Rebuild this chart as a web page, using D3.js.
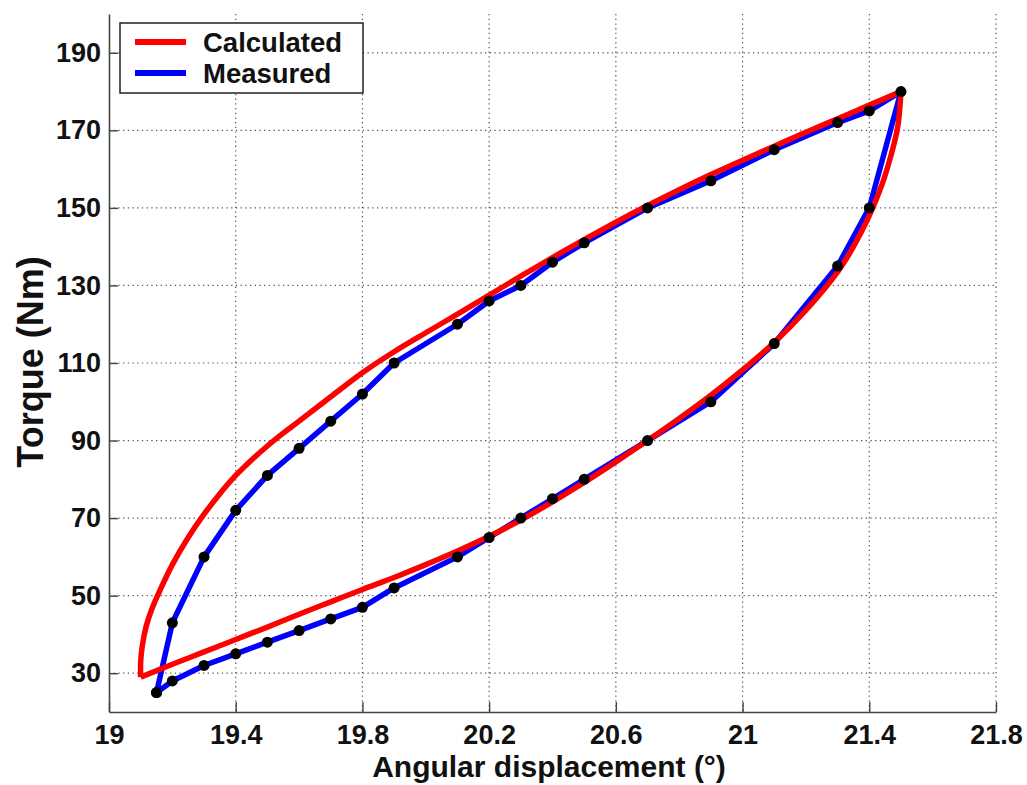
<!DOCTYPE html>
<html>
<head>
<meta charset="utf-8">
<script src="https://cdn.jsdelivr.net/npm/d3@7"></script>
<style>
  body { margin: 0; background: #fff; }
  text { font-family: "Liberation Sans", Arial, sans-serif; font-weight: bold; fill: #111; }
</style>
</head>
<body>
<div id="first_plot"></div>
<script>
// measured points (black dots), loading branch then unloading branch
const measuredX = [19.15, 19.2, 19.3, 19.4, 19.5, 19.6, 19.7, 19.8, 19.9, 20.1, 20.2, 20.3, 20.4, 20.5, 20.7, 20.9, 21.1, 21.3, 21.4, 21.5,
                   21.4, 21.3, 21.1, 20.9, 20.7, 20.5, 20.4, 20.3, 20.2, 20.1, 19.9, 19.8, 19.7, 19.6, 19.5, 19.4, 19.3, 19.2, 19.15];
const measuredY = [25, 28, 32, 35, 38, 41, 44, 47, 52, 60, 65, 70, 75, 80, 90, 100, 115, 135, 150, 180,
                   175, 172, 165, 157, 150, 141, 136, 130, 126, 120, 110, 102, 95, 88, 81, 72, 60, 43, 25];

// calculated curve, lower branch
const calcLowX = [19.1, 19.2, 19.3, 19.4, 19.5, 19.6, 19.7, 19.8, 19.9, 20.0, 20.1, 20.2, 20.3, 20.4, 20.5, 20.6, 20.7, 20.8, 20.9, 21.0, 21.1, 21.2, 21.3, 21.35, 21.4, 21.44, 21.47, 21.49, 21.5];
const calcLowY = [29, 32.3, 35.5, 38.7, 41.9, 45.2, 48.4, 51.6, 54.7, 58, 61.5, 65.3, 69.5, 74.2, 79.2, 84.5, 90, 95.7, 101.7, 108.2, 115.3, 123.6, 133.5, 140, 148, 156, 164, 171, 180];
// calculated curve, upper branch
const calcUpX = [21.5, 21.4, 21.3, 21.2, 21.1, 21.0, 20.9, 20.8, 20.7, 20.6, 20.5, 20.4, 20.3, 20.2, 20.1, 20.0, 19.9, 19.8, 19.7, 19.6, 19.55, 19.5, 19.45, 19.4, 19.35, 19.3, 19.25, 19.2, 19.16, 19.135, 19.117, 19.105, 19.1, 19.1];
const calcUpY = [180, 176.5, 173, 169.5, 165.9, 162.3, 158.6, 154.7, 150.6, 146.3, 141.8, 137.2, 132.4, 127.5, 122.6, 117.8, 112.9, 107.5, 101.3, 95, 91.9, 88.6, 85, 81, 76.3, 71, 65, 58, 51.2, 46.5, 42, 37, 33, 29];

const xTicks = [19, 19.4, 19.8, 20.2, 20.6, 21, 21.4, 21.8];
const yTicks = [30, 50, 70, 90, 110, 130, 150, 170, 190];
const legendNames = ["Calculated", "Measured"];
const legendColors = ["#ff0000", "#0000ff"];

function main(){
  const W = 1027, H = 785;
  const margin = {top: 14, right: 31, bottom: 73, left: 109};
  const width = W - margin.left - margin.right;
  const height = H - margin.top - margin.bottom;

  var svg = d3.select("#first_plot")
      .append("svg")
      .attr("width", W)
      .attr("height", H)
      .append("g")
      .attr("transform", `translate(${margin.left}, ${margin.top})`);

  const x = d3.scaleLinear().domain([19, 21.8]).range([0, width]);
  const y = d3.scaleLinear().domain([20, 200]).range([height, 0]);

  // dotted grid
  svg.append("g").selectAll("line")
    .data(xTicks.slice(1))
    .join("line")
    .attr("x1", d => x(d)).attr("x2", d => x(d))
    .attr("y1", 0).attr("y2", height)
    .attr("stroke", "#555").attr("stroke-width", 1.2)
    .attr("stroke-dasharray", "1.3,3.4");
  svg.append("g").selectAll("line")
    .data(yTicks)
    .join("line")
    .attr("x1", 0).attr("x2", width)
    .attr("y1", d => y(d)).attr("y2", d => y(d))
    .attr("stroke", "#555").attr("stroke-width", 1.2)
    .attr("stroke-dasharray", "1.3,3.4");

  // axes, ticks pointing inward
  const xAxis = svg.append("g")
    .attr("transform", `translate(0, ${height})`)
    .call(d3.axisBottom(x).tickValues(xTicks).tickSizeInner(-10).tickSizeOuter(0).tickPadding(13).tickFormat(d3.format("~g")));
  const yAxis = svg.append("g")
    .call(d3.axisLeft(y).tickValues(yTicks).tickSizeInner(-9).tickSizeOuter(0).tickPadding(8));
  [xAxis, yAxis].forEach(a => {
    a.select(".domain").attr("stroke", "#444").attr("stroke-width", 1.6);
    a.selectAll(".tick line").attr("stroke", "#444").attr("stroke-width", 1.4);
    a.selectAll(".tick text").attr("font-size", 27).attr("font-weight", "bold")
      .attr("font-family", "Liberation Sans, Arial, sans-serif").attr("fill", "#111");
  });

  const line = d3.line().x(d => x(d[0])).y(d => y(d[1]));
  const curve = d3.line().x(d => x(d[0])).y(d => y(d[1])).curve(d3.curveCatmullRom.alpha(0.5));

  const measured = measuredX.map((v, i) => [v, measuredY[i]]);
  const calcLow = calcLowX.map((v, i) => [v, calcLowY[i]]);
  const calcUp = calcUpX.map((v, i) => [v, calcUpY[i]]);

  svg.append("path")
    .datum(measured)
    .attr("fill", "none")
    .attr("stroke", legendColors[1])
    .attr("stroke-width", 5.5)
    .attr("stroke-linejoin", "round")
    .attr("d", line);

  [calcLow, calcUp].forEach(b => {
    svg.append("path")
      .datum(b)
      .attr("fill", "none")
      .attr("stroke", legendColors[0])
      .attr("stroke-width", 5.5)
      .attr("stroke-linejoin", "miter")
      .attr("d", curve);
  });

  svg.append("g").selectAll("circle")
    .data(measured)
    .join("circle")
    .attr("cx", d => x(d[0]))
    .attr("cy", d => y(d[1]))
    .attr("r", 5.5)
    .style("fill", "#000");

  // legend
  const lg = svg.append("g").attr("transform", "translate(11, 9)");
  lg.append("rect")
    .attr("width", 243).attr("height", 70)
    .attr("fill", "#fff").attr("stroke", "#222").attr("stroke-width", 1.5);
  legendNames.forEach((n, i) => {
    lg.append("line")
      .attr("x1", 15).attr("x2", 66)
      .attr("y1", 19 + i * 31).attr("y2", 19 + i * 31)
      .attr("stroke", legendColors[i]).attr("stroke-width", 6);
    lg.append("text")
      .attr("x", 83).attr("y", 29 + i * 31)
      .attr("font-size", 27.5)
      .text(n);
  });

  // axis titles
  svg.append("text")
    .attr("x", 440).attr("y", height + 65)
    .attr("text-anchor", "middle")
    .attr("font-size", 30)
    .text("Angular displacement (°)");
  svg.append("text")
    .attr("transform", `translate(${-66}, ${348}) rotate(-90)`)
    .attr("text-anchor", "middle")
    .attr("font-size", 36)
    .text("Torque (Nm)");
}

main();
</script>
</body>
</html>
